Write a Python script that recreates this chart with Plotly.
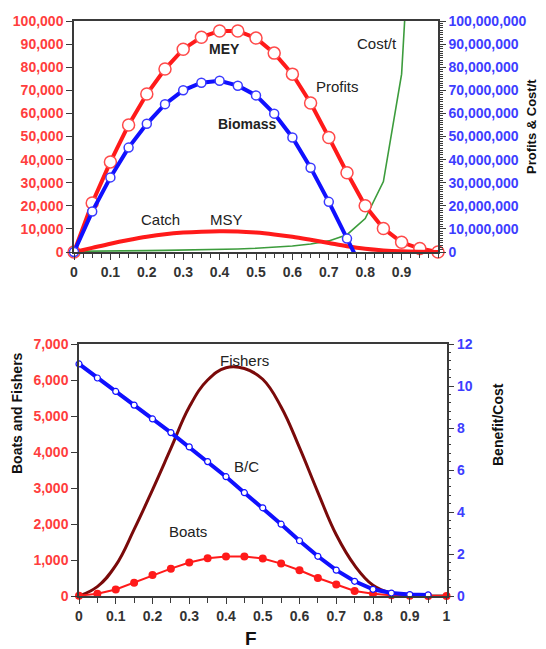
import plotly.graph_objects as go

# ---------------- data ----------------
F = [0, 0.05, 0.1, 0.15, 0.2, 0.25, 0.3, 0.35, 0.4, 0.45, 0.5,
     0.55, 0.6, 0.65, 0.7, 0.75, 0.8, 0.85, 0.9, 0.95, 1.0]

# top chart
profits = [0, 21.2e6, 39.0e6, 55.0e6, 68.4e6, 79.2e6, 87.8e6, 93.0e6, 95.7e6, 95.7e6, 92.6e6,
           86.1e6, 77.0e6, 64.5e6, 49.6e6, 34.3e6, 20.0e6, 10.2e6, 4.2e6, 1.5e6, 0]
biomass = [0, 17500, 32300, 45200, 55500, 64000, 70000, 73300, 74100, 72000, 67800,
           59900, 49600, 36500, 21700, 5800, -10000]
catch = [0, 1800, 3600, 5200, 6600, 7700, 8400, 8800, 9000, 8900, 8400,
         7600, 6600, 5300, 3900, 2500, 1400, 700, 300, 100, 0]
cost_t = [0.3e6, 0.3e6, 0.4e6, 0.5e6, 0.6e6, 0.7e6, 0.8e6, 0.9e6, 1.1e6, 1.3e6, 1.6e6,
          2.0e6, 2.6e6, 3.5e6, 4.8e6, 7.5e6, 14.5e6, 30.5e6, 77e6, 215e6]

# bottom chart
boats = [10, 60, 180, 370, 580, 760, 930, 1050, 1100, 1100, 1040,
         900, 715, 500, 320, 140, 60, 20, 5, 0, 0]
fishers = [0, 260, 850, 1850, 2950, 4100, 5250, 6000, 6340, 6320, 6020,
           5250, 4120, 2880, 1700, 850, 300, 80, 15, 0, 0]
bc = [11.05, 10.38, 9.74, 9.09, 8.43, 7.78, 7.10, 6.40, 5.68, 4.92, 4.20,
      3.42, 2.63, 1.89, 1.23, 0.70, 0.32, 0.14, 0.07, 0.05]

x_ticks = [0, 0.1, 0.2, 0.3, 0.4, 0.5, 0.6, 0.7, 0.8, 0.9]
x_ticks_bottom = [0, 0.1, 0.2, 0.3, 0.4, 0.5, 0.6, 0.7, 0.8, 0.9, 1]

# ---------------- layout helpers ----------------
W, H = 546, 649
OFF = 8  # page body margin offset
def px(x):
    return (x - OFF) / W
def py(y):
    return 1 - (y - OFF) / H

FONT = "Liberation Sans, Arial, sans-serif"
RED_T = "#ff3d3d"
BLUE_T = "#3d3dff"
AX = "#3a3a3a"

fig = go.Figure()

# ---- top chart: profits & cost on y (right), biomass & catch on y2 (left) ----
fig.add_trace(go.Scatter(x=F[:len(cost_t)], y=cost_t, mode="lines",
                         line=dict(color="#3c9c3c", width=1.6),
                         xaxis="x", yaxis="y", cliponaxis=True, showlegend=False))
fig.add_trace(go.Scatter(x=F, y=profits, mode="lines+markers",
                         line=dict(color="#ff1a1a", width=4),
                         marker=dict(symbol="circle", size=12, color="white",
                                     line=dict(color="#ff4a4a", width=1.5)),
                         xaxis="x", yaxis="y", cliponaxis=False, showlegend=False))
fig.add_trace(go.Scatter(x=F, y=catch, mode="lines", line_shape="spline",
                         line=dict(color="#ff1a1a", width=4),
                         xaxis="x", yaxis="y2", cliponaxis=False, showlegend=False))
fig.add_trace(go.Scatter(x=F[:len(biomass)], y=biomass, mode="lines",
                         line=dict(color="#1010ff", width=4),
                         xaxis="x", yaxis="y2", cliponaxis=True, showlegend=False))
fig.add_trace(go.Scatter(x=F[:len(biomass) - 1], y=biomass[:-1], mode="markers",
                         marker=dict(symbol="circle", size=9, color="white",
                                     line=dict(color="#3a3aff", width=1.5)),
                         xaxis="x", yaxis="y2", cliponaxis=False, showlegend=False))

# ---- bottom chart ----
fig.add_trace(go.Scatter(x=F, y=fishers, mode="lines",
                         line=dict(color="#7a0a0a", width=3, shape="spline", smoothing=1.2),
                         xaxis="x2", yaxis="y3", cliponaxis=False, showlegend=False))
fig.add_trace(go.Scatter(x=F, y=boats, mode="lines+markers",
                         line=dict(color="#ff1a1a", width=2),
                         marker=dict(symbol="circle", size=8, color="#ff1a1a"),
                         xaxis="x2", yaxis="y3", cliponaxis=False, showlegend=False))
fig.add_trace(go.Scatter(x=F[:len(bc)], y=bc, mode="lines+markers",
                         line=dict(color="#1010ff", width=4),
                         marker=dict(symbol="circle", size=6, color="white",
                                     line=dict(color="#1010ff", width=1.2)),
                         xaxis="x2", yaxis="y4", cliponaxis=False, showlegend=False))

def tf(color):
    return dict(family=FONT, size=14, color=color, weight="bold")

common = dict(showgrid=False, zeroline=False, automargin=False,
              showline=True, linecolor=AX, linewidth=1.5, tickcolor=AX)
# tick-only overlay axes (inner half of the crossing tick marks)
inner = dict(showgrid=False, zeroline=False, automargin=False, showline=False,
             showticklabels=False, ticks="inside", tickcolor=AX)

fig.update_layout(
    width=W, height=H,
    margin=dict(l=0, r=0, t=0, b=0, pad=0, autoexpand=False),
    paper_bgcolor="white", plot_bgcolor="white",
    font=dict(family=FONT),
    xaxis=dict(domain=[px(74), px(438)], anchor="y", range=[0, 1],
               tickvals=x_ticks, ticktext=[str(v) for v in x_ticks],
               ticks="outside", ticklen=6, tickwidth=1.2,
               minor=dict(dtick=0.025, ticks="outside", ticklen=4, tickcolor=AX),
               mirror=True, tickfont=tf("#333333"), **common),
    xaxis3=dict(overlaying="x", anchor="y", side="bottom", range=[0, 1],
                dtick=0.025, ticklen=4, **inner),
    yaxis=dict(domain=[py(252), py(21)], anchor="x", side="right", range=[0, 1e8],
               dtick=1e7, tickformat=",d", ticks="outside", ticklen=6,
               minor=dict(dtick=1e6, ticks="outside", ticklen=3, tickcolor=AX),
               tickfont=tf(BLUE_T), **common),
    yaxis5=dict(overlaying="y", anchor="x", side="right", range=[0, 1e8],
                dtick=1e6, ticklen=3, **inner),
    yaxis2=dict(overlaying="y", anchor="x", side="left", range=[0, 1e5],
                dtick=1e4, tickformat=",d", ticks="outside", ticklen=6,
                tickfont=tf(RED_T), **common),
    xaxis2=dict(domain=[px(79), px(446.5)], anchor="y3", range=[0, 1],
                tickvals=x_ticks_bottom, ticktext=[str(v) for v in x_ticks_bottom],
                ticks="outside", ticklen=6, tickwidth=1.2,
                minor=dict(dtick=0.05, ticks="outside", ticklen=5, tickcolor=AX),
                mirror=True, tickfont=tf("#333333"), **common),
    yaxis3=dict(domain=[py(596), py(344)], anchor="x2", side="left", range=[0, 7000],
                dtick=1000, tickformat=",d", ticks="outside", ticklen=6,
                tickfont=tf(RED_T), **common),
    yaxis6=dict(overlaying="y3", anchor="x2", side="left", range=[0, 7000],
                dtick=1000, ticklen=5, **inner),
    yaxis4=dict(overlaying="y3", anchor="x2", side="right", range=[0, 12],
                dtick=2, ticks="outside", ticklen=6,
                minor=dict(dtick=0.4, ticks="outside", ticklen=3, tickcolor=AX),
                tickfont=tf(BLUE_T), **common),
)

# ---- annotations (labels & axis titles) ----
def label(text, x, y, size=14, bold=False, angle=0, color="#222222"):
    fig.add_annotation(text=text, x=px(x), y=py(y), xref="paper", yref="paper",
                       showarrow=False, textangle=angle,
                       font=dict(family=FONT, size=size, color=color,
                                 weight="bold" if bold else "normal"),
                       xanchor="center", yanchor="middle")

label("MEY", 224, 49, bold=True)
label("Biomass", 247, 124, bold=True)
label("Catch", 160, 220, size=15)
label("MSY", 226, 220, size=15)
label("Profits", 337, 87, size=15)
label("Cost/t", 377, 43, size=15)
label("Profits &amp; Cost/t", 532, 127, size=13, bold=True, angle=-90, color="#111111")

label("Fishers", 244, 360, size=15)
label("B/C", 246, 466, size=15)
label("Boats", 188, 531, size=15)
label("Boats and Fishers", 17, 413, bold=True, angle=-90, color="#111111")
label("Benefit/Cost", 498, 425, bold=True, angle=-90, color="#111111")
label("F", 251, 638, size=19, bold=True, color="#111111")

fig.write_html("out.html")
